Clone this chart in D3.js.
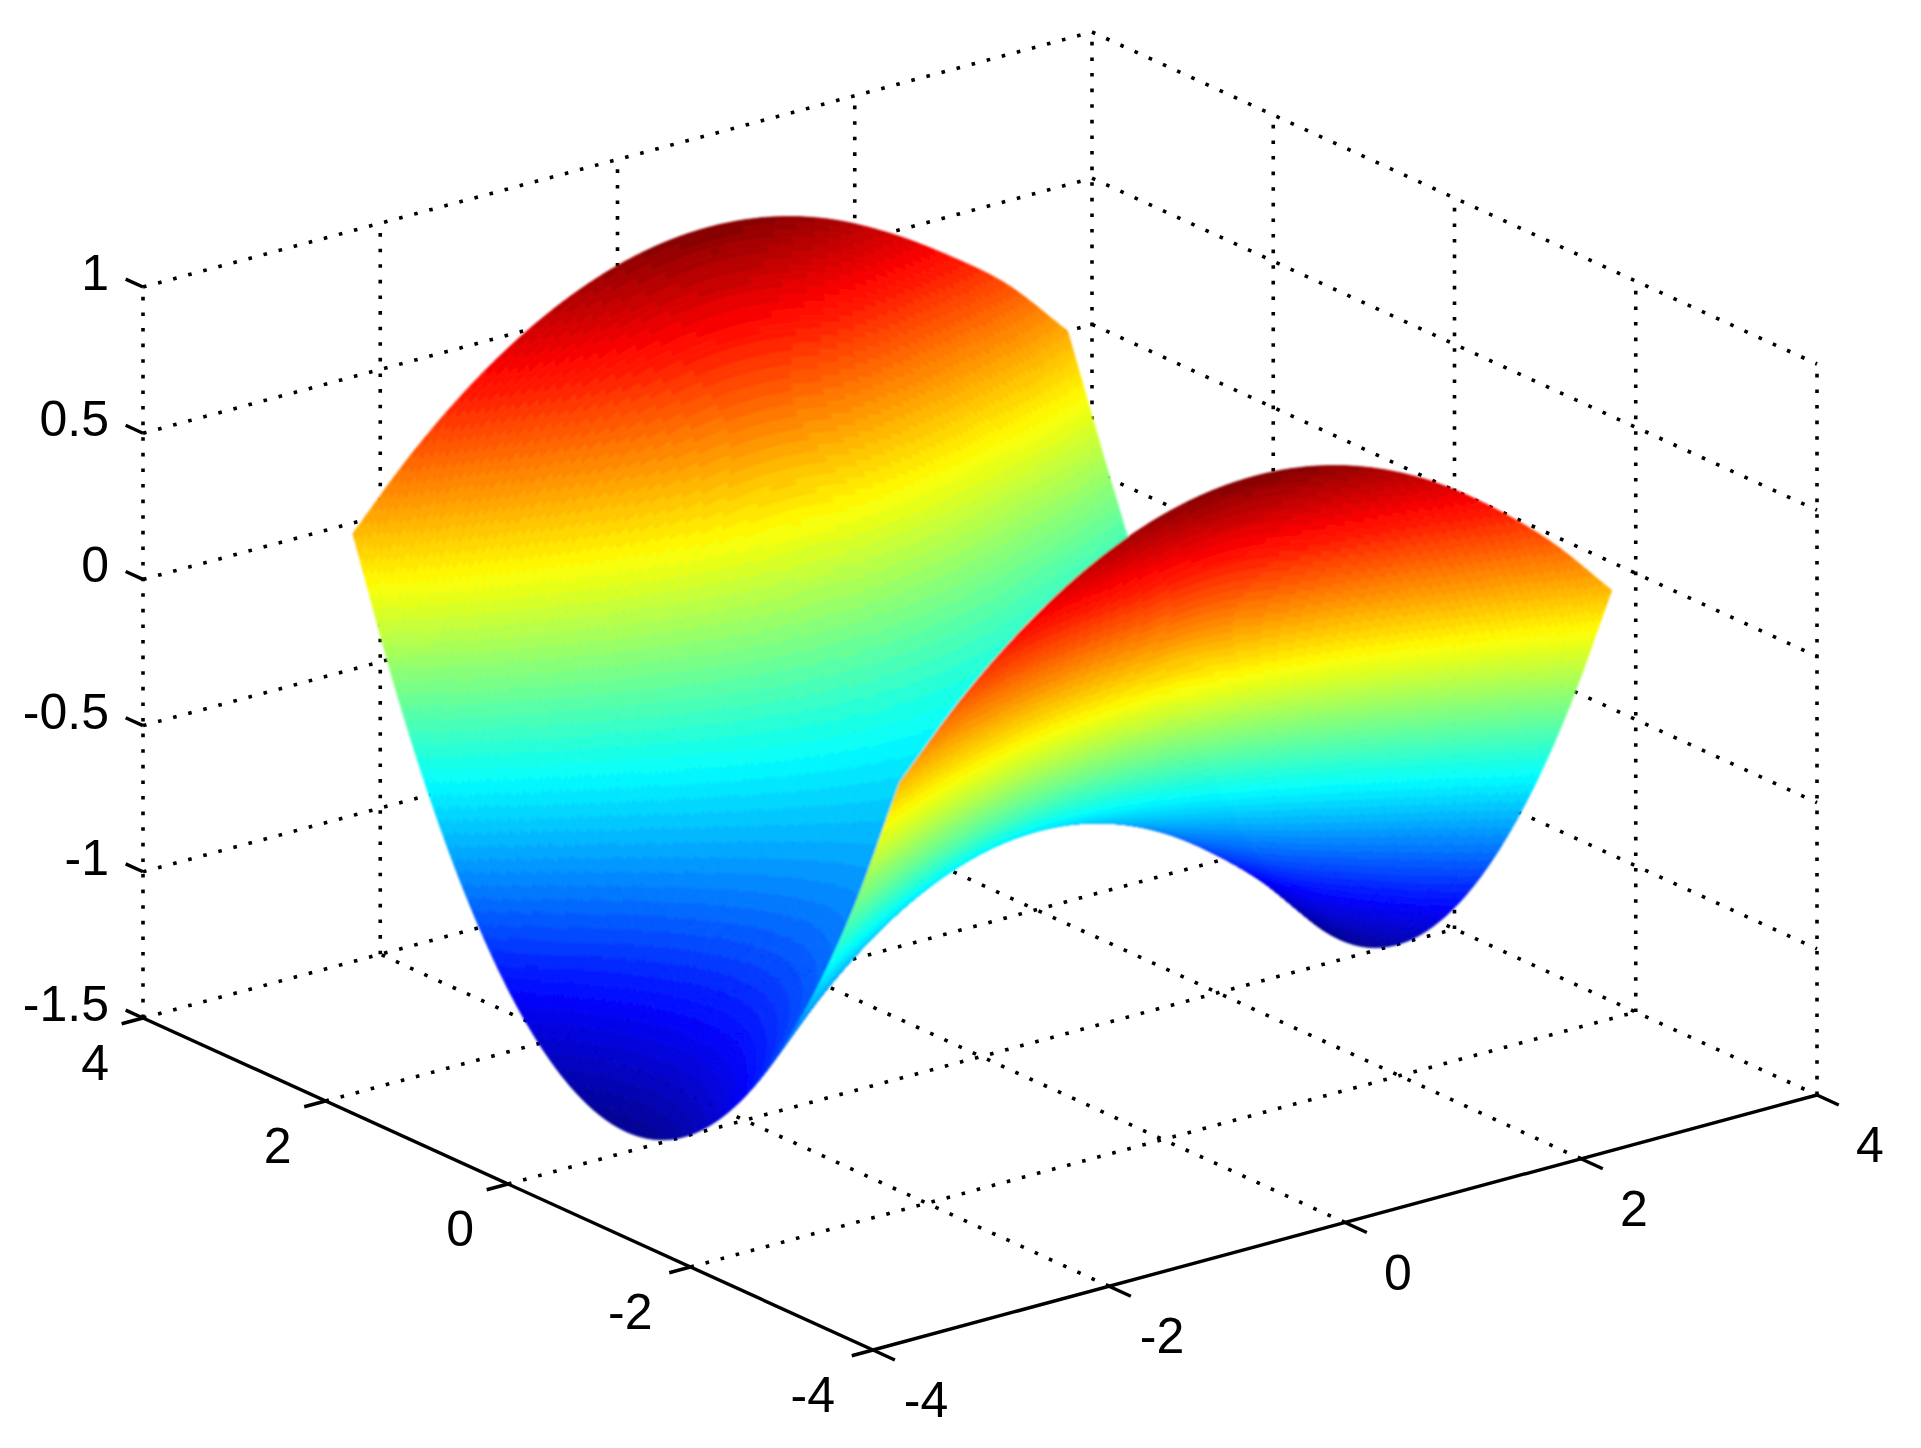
<!DOCTYPE html>
<html>
<head>
<meta charset="utf-8">
<script src="https://cdn.jsdelivr.net/npm/d3@7"></script>
<style>
html,body{margin:0;padding:0;background:#fff}
svg{display:block}
text{font-family:"Liberation Sans",Arial,sans-serif;font-size:50px;fill:#000}
</style>
</head>
<body>
<svg id="chart" width="1921" height="1448">
  <defs><filter id="soft" x="-5%" y="-5%" width="110%" height="110%"><feGaussianBlur stdDeviation="0.9"/></filter></defs>
</svg>
<script>
// ---- values ----
const xTicks = [-4, -2, 0, 2, 4];
const yTicks = [-4, -2, 0, 2, 4];
const zTicks = [-1.5, -1, -0.5, 0, 0.5, 1];
const zTickLabels = ["-1.5", "-1", "-0.5", "0", "0.5", "1"];
const surfaceX = [-3, -2.5, -2, -1.5, -1, -0.5, 0, 0.5, 1, 1.5, 2, 2.52, 3.03];
const surfaceY = [3, 2.5, 2, 1.5, 1, 0.5, 0, -0.5, -1, -1.5, -2, -2.5, -3];
const surfaceZ = [
  [ 0.19, 0.41, 0.59, 0.73, 0.83, 0.89, 0.91, 0.89, 0.83, 0.73, 0.60, 0.44, 0.225],
  [-0.305,-0.085, 0.095, 0.235, 0.335, 0.395, 0.415, 0.395, 0.335, 0.235, 0.10,-0.05,-0.24],
  [-0.71,-0.49,-0.31,-0.17,-0.07,-0.01, 0.01,-0.01,-0.07,-0.17,-0.31,-0.47,-0.67],
  [-1.025,-0.805,-0.625,-0.485,-0.385,-0.325,-0.305,-0.325,-0.385,-0.485,-0.625,-0.80,-1.00],
  [-1.25,-1.03,-0.85,-0.71,-0.61,-0.55,-0.53,-0.55,-0.61,-0.71,-0.85,-1.03,-1.25],
  [-1.385,-1.165,-0.985,-0.845,-0.745,-0.685,-0.665,-0.685,-0.745,-0.845,-0.985,-1.165,-1.385],
  [-1.43,-1.21,-1.03,-0.89,-0.79,-0.73,-0.71,-0.73,-0.79,-0.89,-1.03,-1.21,-1.43],
  [-1.385,-1.165,-0.985,-0.845,-0.745,-0.685,-0.665,-0.685,-0.745,-0.845,-0.985,-1.165,-1.385],
  [-1.25,-1.03,-0.85,-0.71,-0.61,-0.55,-0.53,-0.55,-0.61,-0.71,-0.85,-1.03,-1.25],
  [-1.025,-0.805,-0.625,-0.485,-0.385,-0.325,-0.305,-0.325,-0.385,-0.485,-0.625,-0.805,-1.025],
  [-0.71,-0.49,-0.31,-0.17,-0.07,-0.01, 0.01,-0.01,-0.07,-0.17,-0.31,-0.49,-0.71],
  [-0.305,-0.085, 0.095, 0.235, 0.335, 0.395, 0.415, 0.395, 0.335, 0.235, 0.095,-0.085,-0.305],
  [ 0.19, 0.41, 0.59, 0.73, 0.83, 0.89, 0.91, 0.89, 0.83, 0.73, 0.59, 0.41, 0.19]
];

// ---- 3-D axes as linear scales on to the page ----
const origin = {px: 873, py: 1350};
const xPx = d3.scaleLinear([-4, 4], [0, 944]);
const xPy = d3.scaleLinear([-4, 4], [0, -255]);
const yPx = d3.scaleLinear([-4, 4], [0, -730]);
const yPy = d3.scaleLinear([-4, 4], [0, -332]);
const zPy = d3.scaleLinear([-1.5, 1], [0, -731]);
const depthPx = d3.scaleLinear([0, 64], [0, 5]);   // the slight camera perspective towards the back corner
const project = (x, y, z) => [
  origin.px + xPx(x) + yPx(y) + depthPx((x + 4) * (y + 4)),
  origin.py + xPy(x) + yPy(y) + zPy(z)
];

const svg = d3.select("#chart");
const line = d3.line();
const xLo = -4, xHi = 4, yLo = -4, yHi = 4, zLo = -1.5, zHi = 1;

// ---- dotted grid ----
const gridSegs = [];
zTicks.forEach(z => {
  gridSegs.push([project(xLo, yHi, z), project(xHi, yHi, z)]);
  gridSegs.push([project(xHi, yHi, z), project(xHi, yLo, z)]);
});
xTicks.forEach(x => {
  gridSegs.push([project(x, yHi, zLo), project(x, yHi, zHi)]);
  if (x > xLo && x < xHi) gridSegs.push([project(x, yLo, zLo), project(x, yHi, zLo)]);
});
yTicks.forEach(y => {
  if (y < yHi) gridSegs.push([project(xHi, y, zLo), project(xHi, y, zHi)]);
  if (y > yLo && y < yHi) gridSegs.push([project(xLo, y, zLo), project(xHi, y, zLo)]);
});
svg.append("g").selectAll("path").data(gridSegs).join("path")
  .attr("d", line).attr("fill", "none").attr("stroke", "#000")
  .attr("stroke-width", 3.6).attr("stroke-dasharray", "3.6 12");

// ---- solid axes and ticks ----
const axisSegs = [
  [project(xLo, yLo, zLo), project(xHi, yLo, zLo)],
  [project(xLo, yLo, zLo), project(xLo, yHi, zLo)]
];
xTicks.forEach(x => axisSegs.push([project(x, yLo, zLo), project(x, yLo - 0.24, zLo)]));
yTicks.forEach(y => axisSegs.push([project(xLo, y, zLo), project(xLo - 0.18, y, zLo)]));
zTicks.forEach(z => axisSegs.push([project(xLo, yHi, z), project(xLo, yHi + 0.19, z)]));
svg.append("g").selectAll("path").data(axisSegs).join("path")
  .attr("d", line).attr("fill", "none").attr("stroke", "#000").attr("stroke-width", 3.4);

// ---- tick labels ----
const labels = svg.append("g");
labels.selectAll(".xl").data(xTicks).join("text").attr("class", "xl")
  .attr("text-anchor", "middle")
  .attr("x", d => project(d, yLo, zLo)[0] + 53)
  .attr("y", d => project(d, yLo, zLo)[1] + 67)
  .text(d => d);
labels.selectAll(".yl").data(yTicks).join("text").attr("class", "yl")
  .attr("text-anchor", "end")
  .attr("x", d => project(xLo, d, zLo)[0] - (d < 0 ? 38 : 34))
  .attr("y", d => project(xLo, d, zLo)[1] + 62)
  .text(d => d);
labels.selectAll(".zl").data(zTicks).join("text").attr("class", "zl")
  .attr("text-anchor", "end")
  .attr("x", d => project(xLo, yHi, d)[0] - 34)
  .attr("y", d => project(xLo, yHi, d)[1] + 3)
  .text((d, i) => zTickLabels[i]);

// ---- jet colour map, 64 levels ----
const jet = d3.scaleLinear()
  .domain([0, 0.125, 0.375, 0.625, 0.875, 1])
  .range(["#00008f", "#0000ff", "#00ffff", "#ffff00", "#ff0000", "#800000"])
  .interpolate(d3.interpolateRgb);
const zExtent = d3.extent(surfaceZ.flat());
const levelOf = d3.scaleQuantize().domain(zExtent).range(d3.range(64));
const levelColor = l => jet((l + 0.5) / 64);

// ---- smooth drawing of the table between its cells ----
const SUB = 24;
function crom(a, b, c, d, t) {
  return 0.5 * (2 * b + (c - a) * t + (2 * a - 5 * b + 4 * c - d) * t * t + (3 * b - a - 3 * c + d) * t * t * t);
}
function sample(arr, u) {
  const n = arr.length, i = Math.min(Math.floor(u), n - 2), t = u - i;
  const at = k => k < 0 ? 2 * arr[0] - arr[1] : k >= n ? 2 * arr[n - 1] - arr[n - 2] : arr[k];
  return crom(at(i - 1), at(i), at(i + 1), at(i + 2), t);
}
const nu = (surfaceX.length - 1) * SUB, nv = (surfaceY.length - 1) * SUB;
const denseRows = surfaceZ.map(row => d3.range(nu + 1).map(i => sample(row, i / SUB)));
const denseZ = d3.range(nv + 1).map(j =>
  d3.range(nu + 1).map(i => sample(denseRows.map(r => r[i]), j / SUB)));
const gx = i => sample(surfaceX, i / SUB), gy = j => sample(surfaceY, j / SUB);

// Painter's order: back row first, from the far x end to the near one.
const surf = svg.append("g").attr("filter", "url(#soft)");
const fmt = v => v.toFixed(1);
for (let j = 0; j < nv; j++) {
  const byLevel = new Map();
  for (let i = nu - 1; i >= 0; i--) {
    const zc = (denseZ[j][i] + denseZ[j][i + 1] + denseZ[j + 1][i] + denseZ[j + 1][i + 1]) / 4;
    const l = levelOf(zc);
    const p = [
      project(gx(i), gy(j), denseZ[j][i]),
      project(gx(i + 1), gy(j), denseZ[j][i + 1]),
      project(gx(i + 1), gy(j + 1), denseZ[j + 1][i + 1]),
      project(gx(i), gy(j + 1), denseZ[j + 1][i])
    ];
    const d = "M" + p.map(q => fmt(q[0]) + "," + fmt(q[1])).join("L") + "Z";
    byLevel.set(l, (byLevel.get(l) || "") + d);
  }
  const rowG = surf.append("g");
  byLevel.forEach((d, l) => {
    rowG.append("path").attr("d", d)
      .attr("fill", levelColor(l)).attr("stroke", levelColor(l)).attr("stroke-width", 0.7);
  });
}
</script>
</body>
</html>
